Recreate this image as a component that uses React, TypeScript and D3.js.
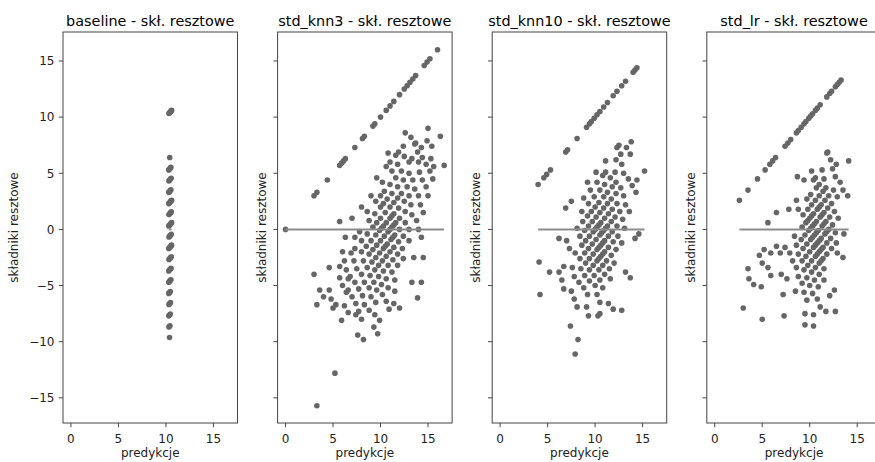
import React from 'react';
import * as d3 from 'd3';

// true target values (each inner array of predictions is aligned to these)
const trueValues = [0, 4, 5, 6, 7, 8, 9, 10, 11, 12, 13, 14, 15, 16, 17, 18, 19, 20];

const baselinePreds: number[][] = [
  [10.32, 10.38, 10.44, 10.5, 10.56, 10.6],
  [10.4],
  [10.3, 10.38, 10.46, 10.52],
  [10.32, 10.4, 10.48, 10.55],
  [10.3, 10.36, 10.44, 10.52],
  [10.3, 10.38, 10.46, 10.54, 10.6],
  [10.32, 10.4, 10.48, 10.56],
  [10.3, 10.38, 10.46, 10.54, 10.6],
  [10.32, 10.4, 10.48, 10.56],
  [10.3, 10.38, 10.46, 10.54, 10.6],
  [10.32, 10.4, 10.48, 10.56],
  [10.3, 10.38, 10.46, 10.54],
  [10.3, 10.38, 10.46, 10.52],
  [10.3, 10.38, 10.46],
  [10.32, 10.4, 10.48],
  [10.3, 10.38, 10.46],
  [10.32, 10.42],
  [10.38],
];

const knn3Preds: number[][] = [
  [0, 3.0, 3.3, 4.4, 5.7, 5.9, 6.1, 6.3, 7.3, 8.1, 8.3, 9.2, 9.4, 10.0, 10.6, 11.0, 11.4, 12.0, 12.5, 12.8, 13.1, 13.4, 13.7, 14.6, 14.9, 15.2, 16.0],
  [10.8, 12.6],
  [5.7, 9.6, 10.6, 11.0, 11.6, 11.9, 12.4, 13.2],
  [7.0, 8.0, 9.0, 10.2, 11.2, 11.8, 12.5, 13.6, 13.7, 15.0],
  [3.0, 6.3, 8.6, 9.5, 10.0, 10.4, 11.0, 11.6, 12.2, 13.0, 13.3, 13.9, 14.3, 14.9],
  [4.6, 6.0, 7.3, 7.8, 8.8, 9.4, 10.0, 10.3, 10.7, 11.2, 11.8, 12.4, 13.0, 14.0, 14.4, 15.4, 16.3],
  [3.6, 5.7, 6.2, 6.9, 7.3, 8.0, 8.6, 9.2, 9.6, 10.0, 10.5, 11.0, 11.4, 11.8, 12.2, 12.8, 13.4, 14.1, 14.8, 15.3],
  [3.3, 4.0, 4.6, 5.7, 6.4, 7.2, 8.0, 8.5, 9.0, 9.5, 9.9, 10.1, 10.3, 10.6, 11.0, 11.2, 11.4, 11.9, 12.5, 13.0, 13.6, 14.4, 15.2, 15.6],
  [4.8, 6.0, 6.6, 6.8, 7.5, 8.2, 8.8, 9.2, 9.6, 10.0, 10.4, 10.8, 11.0, 11.2, 11.4, 11.6, 12.0, 12.6, 13.2, 14.0, 14.8, 15.5, 16.7],
  [5.0, 5.3, 6.4, 6.6, 7.3, 8.0, 8.6, 9.1, 9.5, 9.9, 10.3, 10.5, 10.7, 11.1, 11.3, 11.5, 12.0, 12.6, 13.3, 14.2, 15.0],
  [6.2, 7.0, 7.7, 8.3, 8.9, 9.4, 9.8, 10.2, 10.6, 11.0, 11.4, 11.9, 12.4, 13.0, 13.8, 14.5],
  [5.9, 6.6, 7.4, 8.1, 8.8, 9.3, 9.8, 10.3, 10.8, 11.3, 11.8, 12.3, 13.0, 14.0],
  [7.4, 7.7, 8.3, 9.0, 9.6, 10.1, 10.6, 11.2, 11.8, 12.4, 14.3],
  [8.0, 8.8, 9.5, 10.2, 10.8, 11.5, 13.5],
  [7.6, 9.4, 10.6, 11.5, 14.5],
  [5.2, 8.2, 9.3, 9.9, 10.9, 11.4, 13.3],
  [3.3, 9.7, 12.0, 14.3],
  [13.9],
];

const knn10Preds: number[][] = [
  [4.0, 4.6, 4.9, 5.3, 6.9, 7.1, 8.1, 9.1, 9.4, 9.6, 9.9, 10.2, 10.5, 10.9, 11.3, 11.9, 12.3, 12.8, 13.2, 14.0, 14.2, 14.4],
  [],
  [6.9, 7.5, 9.2, 10.1, 11.1, 12.3, 12.5],
  [8.8, 9.5, 10.2, 10.8, 11.1, 12.2, 12.7, 13.3, 13.8],
  [4.1, 6.2, 8.6, 9.3, 9.9, 10.5, 11.0, 11.6, 12.1, 12.8, 13.7],
  [7.0, 8.1, 8.7, 9.2, 9.6, 10.0, 10.4, 10.9, 11.3, 11.8, 12.2, 13.0],
  [5.2, 7.3, 8.4, 8.9, 9.3, 9.7, 10.1, 10.5, 10.9, 11.3, 11.7, 12.2, 12.7, 13.5],
  [4.2, 6.2, 6.7, 7.9, 8.6, 9.0, 9.4, 9.8, 10.0, 10.2, 10.4, 10.6, 11.0, 11.4, 11.8, 12.3, 13.0, 13.9, 14.4, 15.2],
  [6.5, 7.6, 8.4, 8.9, 9.3, 9.7, 10.1, 10.5, 10.7, 10.9, 11.1, 11.3, 11.7, 12.1, 12.6, 13.2, 14.3],
  [6.7, 7.8, 8.5, 9.0, 9.4, 9.8, 10.2, 10.4, 10.6, 10.8, 11.0, 11.4, 11.8, 12.3, 12.9, 13.6],
  [7.5, 8.3, 8.9, 9.4, 9.8, 10.2, 10.4, 10.6, 10.8, 11.0, 11.4, 11.9, 12.4, 13.1],
  [7.8, 8.8, 9.4, 9.9, 10.4, 10.8, 11.2, 11.7, 12.2, 12.8],
  [8.1, 9.2, 10.0, 10.5, 11.0, 11.5, 12.0, 14.2, 14.6],
  [7.4, 9.1, 10.2, 10.8, 11.6],
  [9.3, 10.5, 13.2],
  [8.2, 10.3, 10.5, 11.4, 13.7],
  [7.9, 11.9],
  [12.8],
];

const lrPreds: number[][] = [
  [2.6, 3.5, 4.5, 5.3, 5.8, 6.1, 6.4, 7.4, 7.7, 8.0, 8.6, 8.8, 9.1, 9.4, 9.6, 9.9, 10.1, 10.3, 10.6, 10.8, 11.1, 11.8, 12.1, 12.3, 12.7, 12.9, 13.1, 13.3],
  [8.7],
  [5.6, 6.5, 9.4, 10.2, 11.8, 11.9],
  [7.8, 8.6, 10.4, 10.6, 11.3, 12.2],
  [3.5, 4.7, 5.2, 8.8, 9.7, 10.1, 10.7, 11.0, 11.5, 12.4, 12.8],
  [3.6, 5.0, 5.9, 6.5, 9.3, 9.8, 10.2, 10.6, 11.0, 11.4, 11.7, 12.7, 14.1],
  [4.1, 5.6, 6.9, 7.4, 8.4, 9.2, 9.6, 9.8, 10.0, 10.2, 10.4, 10.8, 11.0, 11.2, 11.6, 12.0, 12.5, 13.2],
  [3.0, 4.9, 5.9, 7.9, 8.6, 9.1, 9.5, 9.9, 10.1, 10.3, 10.5, 10.7, 11.1, 11.3, 11.5, 11.9, 12.3, 12.9, 13.5],
  [7.0, 8.2, 8.8, 9.3, 9.7, 10.1, 10.3, 10.5, 10.7, 10.9, 11.3, 11.5, 11.7, 12.1, 12.6, 14.0],
  [7.6, 8.6, 9.2, 9.6, 10.0, 10.4, 10.6, 10.8, 11.0, 11.2, 11.6, 11.8, 12.0, 12.4, 13.0],
  [5.0, 7.2, 8.8, 9.4, 9.8, 10.2, 10.6, 10.8, 11.0, 11.2, 11.4, 11.8, 12.2, 12.7],
  [8.5, 9.2, 9.7, 10.2, 10.6, 11.0, 11.2, 11.4, 11.8, 12.3, 12.8, 13.6],
  [7.3, 9.4, 10.0, 10.5, 11.0, 11.5, 12.9],
  [9.7, 10.3, 10.9, 11.5, 13.5],
  [9.5, 10.8],
  [9.5, 10.4, 11.1, 12.1, 12.6],
  [10.4, 11.7],
  [12.7],
];

const panelTitles = ['baseline - skł. resztowe', 'std_knn3 - skł. resztowe', 'std_knn10 - skł. resztowe', 'std_lr - skł. resztowe'];
const panelPreds = [baselinePreds, knn3Preds, knn10Preds, lrPreds];
const xTicks = [0, 5, 10, 15];
const yTicks = [-15, -10, -5, 0, 5, 10, 15];

const W = 875;
const H = 462;
const TOP = 32;
const BOTTOM = 423;
const PW = 174.5;
const LEFT0 = 63;
const STEP = 214.6;

const fmt = (v: number) => (v < 0 ? '\u2212' + Math.abs(v) : String(v));

export default function App() {
  const y = d3.scaleLinear().domain([-17.24, 17.58]).range([BOTTOM, TOP]);
  const font = 'DejaVu Sans, sans-serif';
  return (
    <svg width={W} height={H} style={{ position: 'absolute', left: 0, top: 0, background: '#fff' }} fontFamily={font}>
      {panelPreds.map((preds, pi) => {
        const left = LEFT0 + pi * STEP;
        const x = d3.scaleLinear().domain([-0.835, 17.535]).range([left, left + PW]);
        const pts: { p: number; r: number }[] = [];
        preds.forEach((arr, i) => arr.forEach((p) => pts.push({ p, r: p - trueValues[i] })));
        const [pmin, pmax] = d3.extent(pts, (d) => d.p) as [number, number];
        const cx = left + PW / 2;
        return (
          <g key={pi}>
            <text x={cx} y={25.5} textAnchor="middle" fontSize={14.4} fill="#000">{panelTitles[pi]}</text>
            {pts.map((d, k) => (
              <circle key={k} cx={x(d.p)} cy={y(d.r)} r={2.8} fill="#666" />
            ))}
            <line x1={x(pmin)} x2={x(pmax)} y1={y(0)} y2={y(0)} stroke="#8c8c8c" strokeWidth={2} />
            <rect x={left} y={TOP} width={PW} height={BOTTOM - TOP} fill="none" stroke="#444" strokeWidth={1} />
            {xTicks.map((t) => (
              <g key={'x' + t}>
                <line x1={x(t)} x2={x(t)} y1={BOTTOM} y2={BOTTOM + 4.2} stroke="#444" strokeWidth={1} />
                <text x={x(t)} y={442.5} textAnchor="middle" fontSize={12} fill="#222">{fmt(t)}</text>
              </g>
            ))}
            {yTicks.map((t) => (
              <g key={'y' + t}>
                <line x1={left - 4.2} x2={left} y1={y(t)} y2={y(t)} stroke="#444" strokeWidth={1} />
                {pi === 0 && (
                  <text x={left - 8.5} y={y(t)} dy="0.36em" textAnchor="end" fontSize={12} fill="#222">{fmt(t)}</text>
                )}
              </g>
            ))}
            <text x={cx} y={456.5} textAnchor="middle" fontSize={12} fill="#222">predykcje</text>
            <text
              transform={`translate(${pi === 0 ? left - 45 : left - 12},${(TOP + BOTTOM) / 2}) rotate(-90)`}
              textAnchor="middle"
              fontSize={12}
              fill="#222"
            >
              składniki resztowe
            </text>
          </g>
        );
      })}
    </svg>
  );
}
